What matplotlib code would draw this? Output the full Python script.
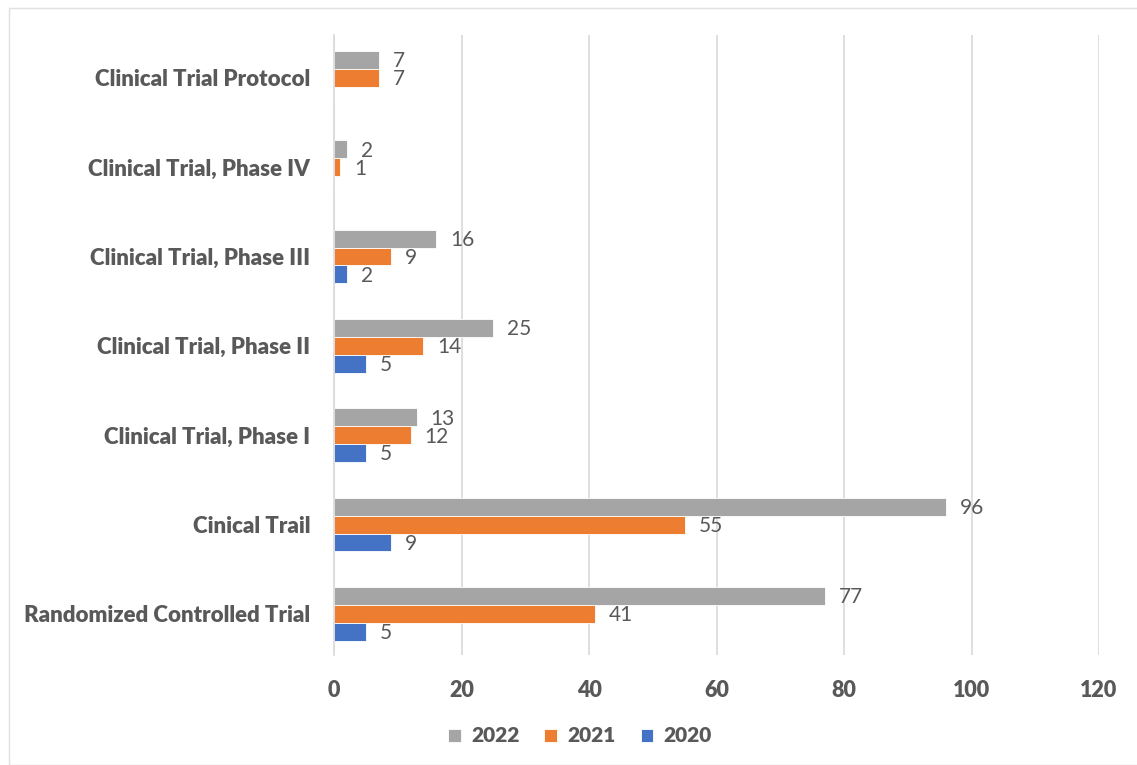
import matplotlib.pyplot as plt
import numpy as np

categories = [
    "Randomized Controlled Trial",
    "Cinical Trail",
    "Clinical Trial, Phase I",
    "Clinical Trial, Phase II",
    "Clinical Trial, Phase III",
    "Clinical Trial, Phase IV",
    "Clinical Trial Protocol",
]
values_2020 = [5, 9, 5, 5, 2, None, None]
values_2021 = [41, 55, 12, 14, 9, 1, 7]
values_2022 = [77, 96, 13, 25, 16, 2, 7]

text_color = "#595959"
plt.rcParams["font.family"] = ["Lato", "DejaVu Sans"]

fig = plt.figure(figsize=(11.37, 7.65), dpi=100)
ax = fig.add_axes([334 / 1137, 1 - 655 / 765, (1099 - 334) / 1137, (655 - 35) / 765])

y = np.arange(len(categories))
h = 0.2
series = [
    ("2022", values_2022, "#A5A5A5", h),
    ("2021", values_2021, "#ED7D31", 0),
    ("2020", values_2020, "#4472C4", -h),
]
handles = []
for name, vals, color, off in series:
    v = np.array([np.nan if x is None else x for x in vals], dtype=float)
    bars = ax.barh(y + off, np.nan_to_num(v), height=h, color=color, label=name,
                   edgecolor="white", linewidth=0.6, zorder=3)
    handles.append(bars)
    for yi, val in zip(y, vals):
        if val is None:
            continue
        ax.annotate(str(val), (val, yi + off), xytext=(10, -1), textcoords="offset points",
                    va="center", ha="left", fontsize=15, color=text_color)

ax.set_xlim(0, 120)
ax.set_ylim(-0.46, 6.48)
ax.set_xticks(range(0, 121, 20))
ax.set_yticks(y)
ax.set_yticklabels(categories, fontsize=16, fontweight="heavy", color=text_color)
ax.tick_params(axis="x", labelsize=15.5, colors=text_color, length=0, pad=18)
ax.tick_params(axis="y", length=0, pad=17)
for lbl in ax.get_xticklabels():
    lbl.set_fontweight("heavy")
ax.grid(axis="x", color="#D9D9D9", linewidth=1.2, zorder=0)
for s in ["top", "right", "bottom"]:
    ax.spines[s].set_visible(False)
ax.spines["left"].set_color("#D9D9D9")
ax.spines["left"].set_linewidth(1.2)
ax.spines["left"].set_zorder(4)

leg = fig.legend(handles=handles, labels=["2022", "2021", "2020"], loc="center",
                 bbox_to_anchor=(580 / 1137, 1 - 736 / 765), ncol=3, frameon=False,
                 handlelength=0.6, handleheight=0.6, handletextpad=0.5, columnspacing=1.2,
                 prop={"size": 15, "weight": "heavy"})
for t in leg.get_texts():
    t.set_color(text_color)

# thin frame like the source image
fig.add_artist(plt.Rectangle((9 / 1137, 0.0), 1.2, 1 - 8 / 765, transform=fig.transFigure,
                             fill=False, edgecolor="#E0E0E0", linewidth=1))

fig.savefig("out.png", dpi=100)
